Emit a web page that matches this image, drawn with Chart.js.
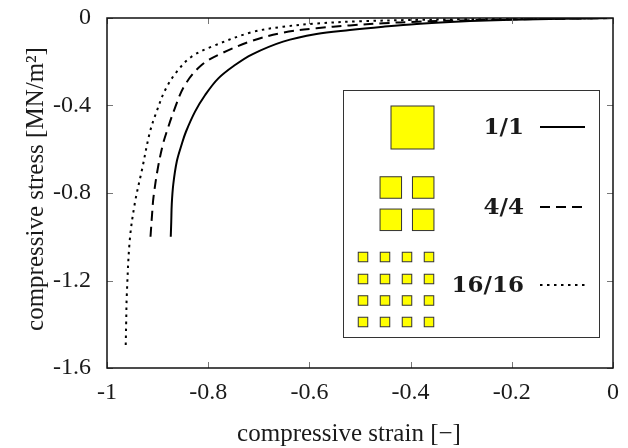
<!DOCTYPE html>
<html>
<head>
<meta charset="utf-8">
<script src="https://cdn.jsdelivr.net/npm/chart.js@4.4.1/dist/chart.umd.min.js"></script>
<style>
  html, body { margin: 0; padding: 0; background: #ffffff; }
  #wrap { width: 628px; height: 448px; }
</style>
</head>
<body>
<div id="wrap"><canvas id="chart" width="628" height="448"></canvas></div>
<script>
// Compressive strain / stress curves for three block subdivisions
const seriesNames = ['1/1', '4/4', '16/16'];

const strain11 = [-0.874, -0.873, -0.872, -0.869, -0.862, -0.852, -0.844, -0.826, -0.806, -0.780, -0.747, -0.714, -0.652, -0.586, -0.520, -0.454, -0.388, -0.322, -0.25, -0.15, -0.05, 0];
const stress11 = [-1.0, -0.93, -0.85, -0.76, -0.655, -0.575, -0.52, -0.428, -0.352, -0.276, -0.215, -0.167, -0.108, -0.073, -0.055, -0.040, -0.027, -0.018, -0.011, -0.006, -0.002, 0];

const strain44 = [-0.914, -0.911, -0.908, -0.899, -0.889, -0.882, -0.866, -0.846, -0.813, -0.773, -0.714, -0.652, -0.586, -0.520, -0.454, -0.388, -0.3, -0.2, -0.1, 0];
const stress44 = [-1.0, -0.90, -0.817, -0.680, -0.573, -0.52, -0.413, -0.306, -0.215, -0.161, -0.105, -0.067, -0.047, -0.034, -0.024, -0.017, -0.011, -0.006, -0.003, 0];

const strain1616 = [-0.963, -0.962, -0.961, -0.955, -0.945, -0.931, -0.915, -0.902, -0.885, -0.862, -0.833, -0.793, -0.714, -0.652, -0.586, -0.5, -0.4, -0.3, -0.2, -0.1, 0];
const stress1616 = [-1.495, -1.38, -1.274, -1.015, -0.847, -0.695, -0.52, -0.428, -0.329, -0.245, -0.177, -0.131, -0.065, -0.040, -0.025, -0.015, -0.009, -0.006, -0.004, -0.002, 0];

const xTicks = [-1, -0.8, -0.6, -0.4, -0.2, 0];
const yTicks = [-1.6, -1.2, -0.8, -0.4, 0];

const xTitle = 'compressive strain [\u2212]';
const yTitle = 'compressive stress [MN/m\u00B2]';

const SERIF = '"Liberation Serif", "Times New Roman", serif';
const INK = '#1a1a1a';

const dashes = [[], [10, 6], [2.5, 4.5]];

function toPoints(xs, ys) {
  return xs.map((x, i) => ({ x: x, y: ys[i] }));
}

const datasets = [
  { label: seriesNames[0], data: toPoints(strain11, stress11), borderDash: dashes[0] },
  { label: seriesNames[1], data: toPoints(strain44, stress44), borderDash: dashes[1] },
  { label: seriesNames[2], data: toPoints(strain1616, stress1616), borderDash: dashes[2] }
].map(d => Object.assign(d, {
  showLine: true,
  borderColor: '#000000',
  borderWidth: 2,
  pointRadius: 0,
  tension: 0.35,
  fill: false
}));

// Frame, inward tick marks, axis titles and the legend box
const decorations = {
  id: 'decorations',
  afterDatasetsDraw(chart) {
    const ctx = chart.ctx;
    const a = chart.chartArea;
    const sx = chart.scales.x, sy = chart.scales.y;
    ctx.save();

    // inward ticks on all four sides
    ctx.strokeStyle = '#777777';
    ctx.lineWidth = 1;
    ctx.beginPath();
    xTicks.forEach(v => {
      const px = Math.round(sx.getPixelForValue(v)) + 0.5;
      ctx.moveTo(px, a.bottom); ctx.lineTo(px, a.bottom - 6);
      ctx.moveTo(px, a.top); ctx.lineTo(px, a.top + 6);
    });
    yTicks.forEach(v => {
      const py = Math.round(sy.getPixelForValue(v)) + 0.5;
      ctx.moveTo(a.left, py); ctx.lineTo(a.left + 6, py);
      ctx.moveTo(a.right, py); ctx.lineTo(a.right - 6, py);
    });
    ctx.stroke();

    // frame
    ctx.strokeStyle = '#111111';
    ctx.lineWidth = 1.5;
    ctx.strokeRect(a.left, a.top, a.right - a.left, a.bottom - a.top);

    // axis titles
    ctx.fillStyle = INK;
    ctx.font = '25px ' + SERIF;
    ctx.textAlign = 'center';
    ctx.textBaseline = 'alphabetic';
    ctx.fillText(xTitle, 349, 441);
    ctx.save();
    ctx.translate(43, 189);
    ctx.rotate(-Math.PI / 2);
    ctx.fillText(yTitle, 0, 0);
    ctx.restore();

    // legend box
    const bx = 343, by = 90, bw = 256, bh = 247;
    ctx.fillStyle = '#ffffff';
    ctx.fillRect(bx, by, bw, bh);
    ctx.strokeStyle = '#333333';
    ctx.lineWidth = 1;
    ctx.strokeRect(bx + 0.5, by + 0.5, bw, bh);

    function square(cx, cy, s) {
      ctx.fillStyle = '#ffff00';
      ctx.fillRect(cx - s / 2, cy - s / 2, s, s);
      ctx.strokeStyle = '#333333';
      ctx.lineWidth = 1;
      ctx.strokeRect(cx - s / 2, cy - s / 2, s, s);
    }
    // 1/1 block
    square(412.5, 127.5, 43);
    // 4/4 blocks
    [390.8, 423.2].forEach(cx => [187.5, 219.8].forEach(cy => square(cx, cy, 21.5)));
    // 16/16 blocks
    [363, 385, 407, 429].forEach(cx => [257, 279, 300.5, 322].forEach(cy => square(cx, cy, 9.5)));

    const rowsY = [127, 207, 285];
    ctx.font = 'bold 23px "DejaVu Serif", serif';
    ctx.textAlign = 'right';
    ctx.textBaseline = 'middle';
    chart.data.datasets.forEach((ds, i) => {
      ctx.fillStyle = INK;
      ctx.fillText(ds.label, 524, rowsY[i] + 1);
      ctx.strokeStyle = '#000000';
      ctx.lineWidth = 2;
      ctx.setLineDash(ds.borderDash);
      ctx.beginPath();
      ctx.moveTo(540, rowsY[i]);
      ctx.lineTo(585, rowsY[i]);
      ctx.stroke();
      ctx.setLineDash([]);
    });

    ctx.restore();
  }
};

function noScalePadding(s) {
  s.paddingTop = 0; s.paddingBottom = 0;
  s.paddingLeft = 0; s.paddingRight = 0;
}

new Chart(document.getElementById('chart'), {
  type: 'scatter',
  data: { datasets: datasets },
  options: {
    responsive: false,
    animation: false,
    layout: { padding: { top: 18, right: 15, left: 0, bottom: 0 } },
    plugins: { legend: { display: false }, tooltip: { enabled: false } },
    scales: {
      x: {
        type: 'linear',
        min: -1, max: 0,
        border: { display: false },
        grid: { display: false, drawTicks: false },
        afterBuildTicks: s => { s.ticks = xTicks.map(v => ({ value: v })); },
        afterFit: s => { s.height = 80; noScalePadding(s); },
        ticks: {
          padding: 10,
          color: INK,
          font: { family: SERIF, size: 24 },
          maxRotation: 0,
          autoSkip: false,
          callback: v => String(v)
        }
      },
      y: {
        type: 'linear',
        min: -1.6, max: 0,
        border: { display: false },
        grid: { display: false, drawTicks: false },
        afterBuildTicks: s => { s.ticks = yTicks.map(v => ({ value: v })); },
        afterFit: s => { s.width = 107; noScalePadding(s); },
        ticks: {
          padding: 16,
          color: INK,
          font: { family: SERIF, size: 24 },
          autoSkip: false,
          callback: v => String(v)
        }
      }
    }
  },
  plugins: [decorations]
});
</script>
</body>
</html>
